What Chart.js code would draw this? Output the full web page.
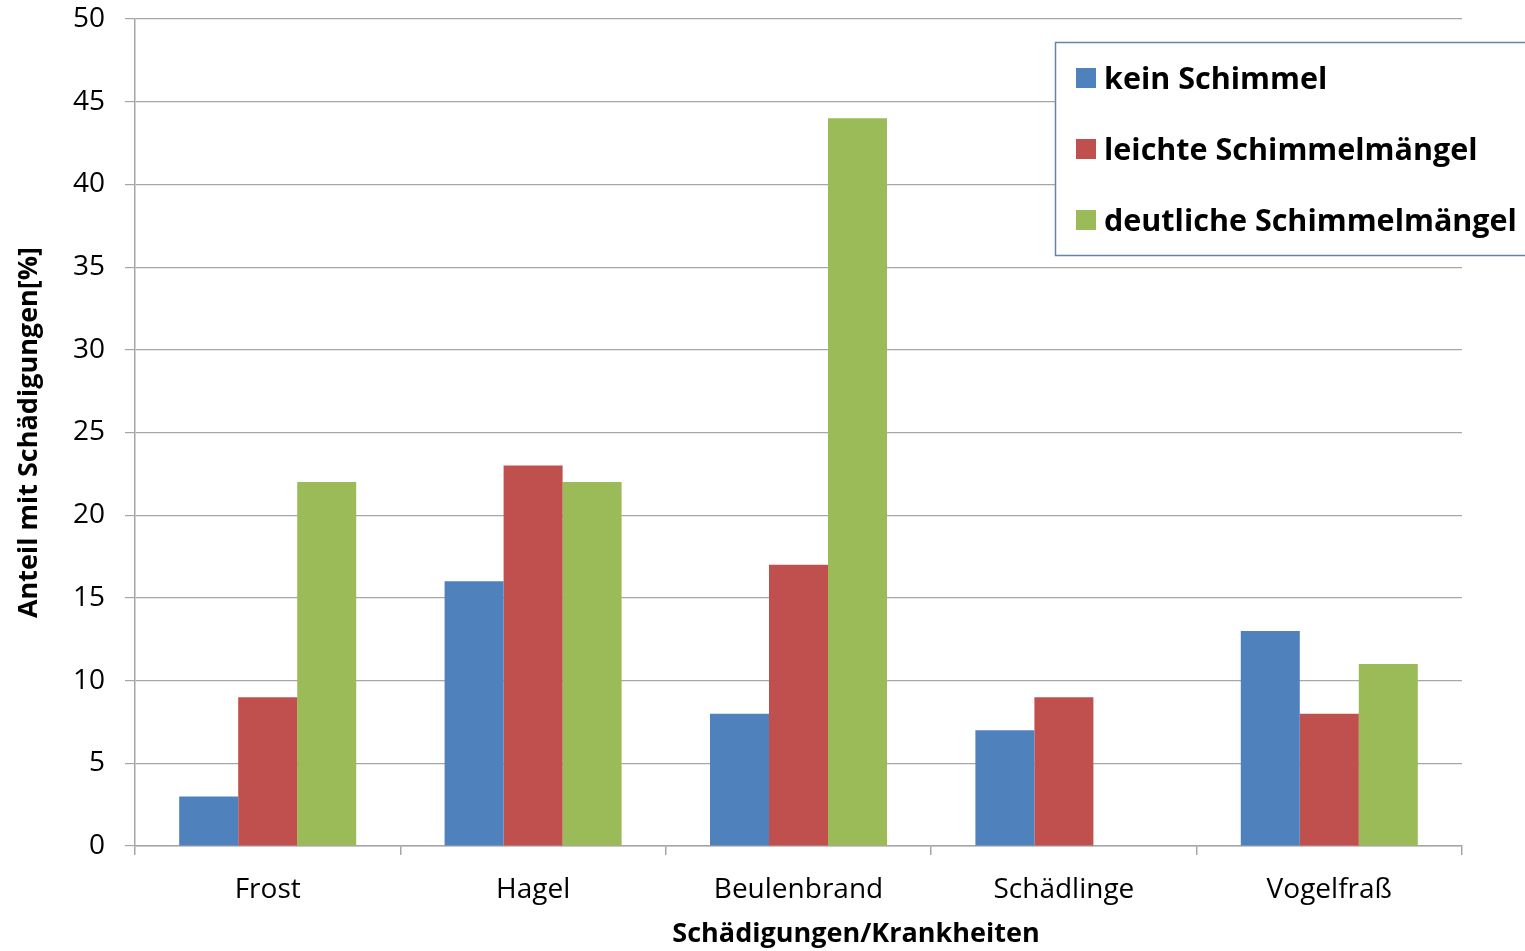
<!DOCTYPE html>
<html lang="de">
<head>
<meta charset="utf-8">
<title>Schädigungen/Krankheiten</title>
<script src="https://cdn.jsdelivr.net/npm/chart.js@4/dist/chart.umd.min.js"></script>
<style>
  html, body { margin: 0; padding: 0; background: #ffffff; }
  #wrap { width: 1525px; height: 951px; position: relative; }
</style>
</head>
<body>
<div id="wrap"><canvas id="chart" width="1525" height="951"></canvas></div>
<script>
// Kategorien und Werte (Anteil mit Schädigungen in %)
const categories = ['Frost', 'Hagel', 'Beulenbrand', 'Schädlinge', 'Vogelfraß'];
const seriesNames = ['kein Schimmel', 'leichte Schimmelmängel', 'deutliche Schimmelmängel'];
const keinSchimmel = [3, 16, 8, 7, 13];
const leichteMaengel = [9, 23, 17, 9, 8];
const deutlicheMaengel = [22, 22, 44, 0, 11];
const seriesColors = ['#4f81bd', '#c0504d', '#9bbb59'];
const yTicks = [0, 5, 10, 15, 20, 25, 30, 35, 40, 45, 50];

const FONT = '"Open Sans", "Noto Sans", sans-serif';
const GRID = '#a6a6a6';

// Legende als eingerahmter Kasten oben rechts
const boxLegend = {
  id: 'boxLegend',
  afterDraw(chart) {
    const ctx = chart.ctx;
    ctx.save();
    const x0 = 1055.5, y0 = 42.5, w = 480, h = 213;
    ctx.fillStyle = '#ffffff';
    ctx.fillRect(x0, y0, w, h);
    ctx.strokeStyle = '#6a82a6';
    ctx.lineWidth = 1.5;
    ctx.strokeRect(x0, y0, w, h);
    ctx.font = 'bold 30.5px ' + FONT;
    ctx.textBaseline = 'middle';
    ctx.textAlign = 'left';
    chart.data.datasets.forEach((ds, i) => {
      const cy = 78 + i * 71;
      ctx.fillStyle = ds.backgroundColor;
      ctx.fillRect(1076, cy - 10, 20, 20);
      ctx.fillStyle = '#000000';
      ctx.fillText(ds.label, 1104, cy + 2);
    });
    ctx.restore();
  }
};

// Achsentitel der Kategorienachse
const xAxisTitle = {
  id: 'xAxisTitle',
  afterDraw(chart) {
    const ctx = chart.ctx;
    ctx.save();
    ctx.font = 'bold 27px ' + FONT;
    ctx.fillStyle = '#000000';
    ctx.textAlign = 'center';
    ctx.textBaseline = 'middle';
    ctx.fillText('Schädigungen/Krankheiten', 856, 934);
    ctx.restore();
  }
};

new Chart(document.getElementById('chart'), {
  type: 'bar',
  data: {
    labels: categories,
    datasets: [
      { label: seriesNames[0], data: keinSchimmel, backgroundColor: seriesColors[0] },
      { label: seriesNames[1], data: leichteMaengel, backgroundColor: seriesColors[1] },
      { label: seriesNames[2], data: deutlicheMaengel, backgroundColor: seriesColors[2] }
    ]
  },
  options: {
    responsive: false,
    animation: false,
    devicePixelRatio: 1,
    layout: { padding: { left: 0, right: 63, top: 19, bottom: 0 } },
    datasets: { bar: { categoryPercentage: 0.667, barPercentage: 1.0, borderWidth: 0 } },
    plugins: {
      legend: { display: false },
      tooltip: { enabled: false },
      title: { display: false }
    },
    scales: {
      x: {
        offset: true,
        grid: {
          offset: true,
          drawOnChartArea: false,
          drawTicks: true,
          tickLength: 9,
          color: GRID,
          lineWidth: 1.5
        },
        border: { display: true, color: GRID, width: 1.5 },
        ticks: {
          color: '#000000',
          font: { family: FONT, size: 28 },
          padding: 18,
          maxRotation: 0
        },
        afterFit(scale) {
          scale.height = 105;
          scale.paddingLeft = 0;
          scale.paddingRight = 0;
        }
      },
      y: {
        min: 0,
        max: 50,
        afterBuildTicks(scale) { scale.ticks = yTicks.map(v => ({ value: v })); },
        grid: {
          color: GRID,
          lineWidth: 1.2,
          drawTicks: true,
          tickLength: 10
        },
        border: { display: true, color: GRID, width: 1.5 },
        ticks: {
          color: '#000000',
          font: { family: FONT, size: 28 },
          padding: 20
        },
        title: {
          display: true,
          text: 'Anteil mit Schädigungen[%]',
          color: '#000000',
          font: { family: FONT, size: 27, weight: 'bold' },
          padding: { top: 13, bottom: 0 }
        },
        afterFit(scale) {
          scale.width = 135;
          scale.paddingTop = 0;
          scale.paddingBottom = 0;
        }
      }
    }
  },
  plugins: [boxLegend, xAxisTitle]
});
</script>
</body>
</html>
